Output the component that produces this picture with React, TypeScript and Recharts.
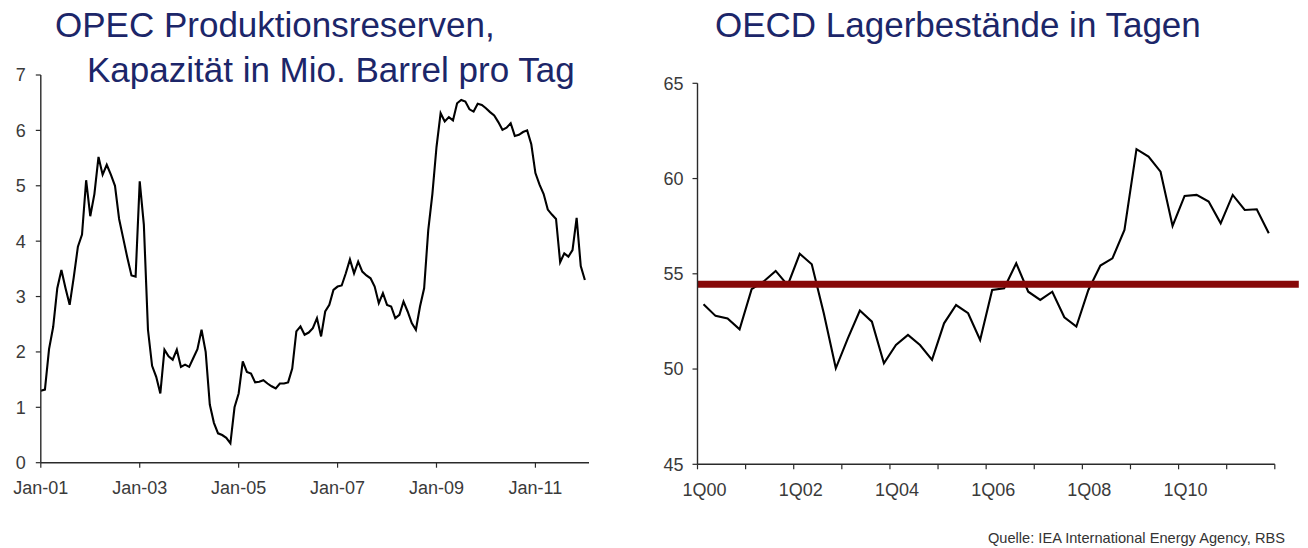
import React from 'react';
import { LineChart, Line, XAxis, YAxis, ReferenceLine } from 'recharts';

// OPEC spare production capacity, mb/d, monthly from Jan-01
const opecSpare: number[] = [
  1.30, 1.32, 2.05, 2.45, 3.15, 3.48, 3.15, 2.85, 3.35, 3.90,
  4.12, 5.10, 4.45, 4.85, 5.52, 5.20, 5.38, 5.20, 5.00, 4.40,
  4.05, 3.70, 3.38, 3.36, 5.08, 4.30, 2.40, 1.75, 1.55, 1.25,
  2.04, 1.92, 1.86, 2.04, 1.73, 1.77, 1.73, 1.89, 2.05, 2.40,
  2.00, 1.05, 0.72, 0.53, 0.50, 0.45, 0.35, 1.00, 1.25, 1.83,
  1.64, 1.61, 1.45, 1.46, 1.49, 1.43, 1.38, 1.34, 1.43, 1.43,
  1.45, 1.70, 2.37, 2.46, 2.31, 2.35, 2.43, 2.61, 2.28, 2.73,
  2.85, 3.12, 3.18, 3.20, 3.42, 3.67, 3.42, 3.63, 3.45, 3.38,
  3.33, 3.18, 2.88, 3.06, 2.85, 2.82, 2.61, 2.67, 2.91, 2.73,
  2.52, 2.40, 2.82, 3.15, 4.20, 4.85, 5.70, 6.31, 6.16, 6.24,
  6.18, 6.49, 6.55, 6.52, 6.38, 6.34, 6.48, 6.46, 6.40, 6.33,
  6.27, 6.15, 6.01, 6.05, 6.13, 5.90, 5.92, 5.97, 6.00, 5.75,
  5.23, 5.02, 4.85, 4.57, 4.48, 4.40, 3.62, 3.78, 3.72, 3.84,
  4.42, 3.55, 3.30,
];
const opecTickPos: number[] = [0, 24, 48, 72, 96, 120];
const opecTickLabels: string[] = ['Jan-01', 'Jan-03', 'Jan-05', 'Jan-07', 'Jan-09', 'Jan-11'];
const opecYTicks: number[] = [0, 1, 2, 3, 4, 5, 6, 7];

// OECD stocks in days of demand, quarterly from 1Q00
const oecdDays: number[] = [
  53.40, 52.79, 52.66, 52.09, 54.19, 54.60, 55.15, 54.40, 56.05, 55.50,
  52.93, 50.04, 51.61, 53.07, 52.49, 50.30, 51.26, 51.79, 51.26, 50.48,
  52.40, 53.36, 52.93, 51.53, 54.15, 54.24, 55.55, 54.06, 53.63, 54.06,
  52.72, 52.23, 54.15, 55.43, 55.81, 57.30, 61.54, 61.15, 60.36, 57.51,
  59.09, 59.14, 58.79, 57.65, 59.14, 58.35, 58.39, 57.13,
];
const oecdAverage = 54.45;
const oecdTickMarks: number[] = [0, 4, 8, 12, 16, 20, 24, 28, 32, 36, 40, 44, 48];
const oecdLabelPos: number[] = [0, 8, 16, 24, 32, 40];
const oecdLabels: string[] = ['1Q00', '1Q02', '1Q04', '1Q06', '1Q08', '1Q10'];
const oecdYTicks: number[] = [45, 50, 55, 60, 65];

const FONT = '"Liberation Sans", Arial, Helvetica, sans-serif';
const TICK_STYLE = { fontSize: 18, fill: '#3a3a3a', fontFamily: FONT };
const AXIS_COLOR = '#2a2a2a';

const opecData = opecSpare.map((v, i) => ({ m: i, v }));
const oecdData = oecdDays.map((v, i) => ({ q: i + 0.5, v }));

const QuarterTick = (props: any) => {
  const { x, y, payload } = props;
  const idx = oecdLabelPos.indexOf(payload.value);
  if (idx < 0) return <g />;
  return (
    <text x={x + 7} y={y} dy="0.71em" textAnchor="middle" {...TICK_STYLE}>
      {oecdLabels[idx]}
    </text>
  );
};

const RedLine = (p: any) => (
  <line x1={p.x1} y1={p.y1} x2={p.x2 + 24} y2={p.y2} stroke="#870808" strokeWidth={7} />
);

export default function App() {
  return (
    <div
      style={{
        position: 'absolute',
        left: 0,
        top: 0,
        width: 1308,
        height: 548,
        background: '#ffffff',
        overflow: 'hidden',
      }}
    >
      <div style={{ position: 'absolute', left: 0, top: 0 }}>
        <LineChart
          width={600}
          height={520}
          data={opecData}
          margin={{ top: 75, right: 11, bottom: 27.3, left: 0 }}
        >
          <XAxis
            type="number"
            dataKey="m"
            domain={[0, 133]}
            ticks={opecTickPos}
            interval={0}
            allowDataOverflow
            tickFormatter={(v: number) => opecTickLabels[opecTickPos.indexOf(v)] ?? ''}
            tick={TICK_STYLE}
            tickSize={5}
            tickMargin={14}
            axisLine={{ stroke: AXIS_COLOR, strokeWidth: 1.6 }}
            tickLine={{ stroke: AXIS_COLOR, strokeWidth: 1.2 }}
            height={30}
          />
          <YAxis
            type="number"
            domain={[0, 7]}
            ticks={opecYTicks}
            interval={0}
            allowDataOverflow
            tick={TICK_STYLE}
            tickSize={5}
            tickMargin={10}
            width={40.8}
            axisLine={{ stroke: AXIS_COLOR, strokeWidth: 1.4 }}
            tickLine={{ stroke: AXIS_COLOR, strokeWidth: 1.2 }}
          />
          <Line
            type="linear"
            dataKey="v"
            stroke="#000000"
            strokeWidth={2.1}
            dot={false}
            isAnimationActive={false}
          />
        </LineChart>
      </div>

      <div style={{ position: 'absolute', left: 640, top: 0 }}>
        <LineChart
          width={668}
          height={520}
          data={oecdData}
          margin={{ top: 83.3, right: 33.2, bottom: 25.7, left: 0 }}
        >
          <XAxis
            type="number"
            dataKey="q"
            domain={[0, 48]}
            ticks={oecdTickMarks}
            interval={0}
            allowDataOverflow
            tick={<QuarterTick />}
            tickSize={5}
            tickMargin={14}
            axisLine={{ stroke: AXIS_COLOR, strokeWidth: 1.6 }}
            tickLine={{ stroke: AXIS_COLOR, strokeWidth: 1.2 }}
            height={30}
          />
          <YAxis
            type="number"
            domain={[45, 65]}
            ticks={oecdYTicks}
            interval={0}
            allowDataOverflow
            tick={TICK_STYLE}
            tickSize={5}
            tickMargin={9}
            width={57.5}
            axisLine={{ stroke: AXIS_COLOR, strokeWidth: 1.4 }}
            tickLine={{ stroke: AXIS_COLOR, strokeWidth: 1.2 }}
          />
          <Line
            type="linear"
            dataKey="v"
            stroke="#000000"
            strokeWidth={2.1}
            dot={false}
            isAnimationActive={false}
          />
          <ReferenceLine y={oecdAverage} shape={RedLine} ifOverflow="visible" />
        </LineChart>
      </div>

      <svg
        width={1308}
        height={548}
        style={{ position: 'absolute', left: 0, top: 0, pointerEvents: 'none' }}
      >
        <g fontFamily={FONT} fill="#1c2669" fontSize={35}>
          <text x={55} y={37}>OPEC Produktionsreserven,</text>
          <text x={87} y={82}>Kapazität in Mio. Barrel pro Tag</text>
          <text x={715} y={37}>OECD Lagerbestände in Tagen</text>
        </g>
        <text
          x={988}
          y={543}
          fontFamily={FONT}
          fontSize={15}
          fill="#333333"
          textLength={297}
          lengthAdjust="spacingAndGlyphs"
        >
          Quelle: IEA International Energy Agency, RBS
        </text>
      </svg>
    </div>
  );
}
